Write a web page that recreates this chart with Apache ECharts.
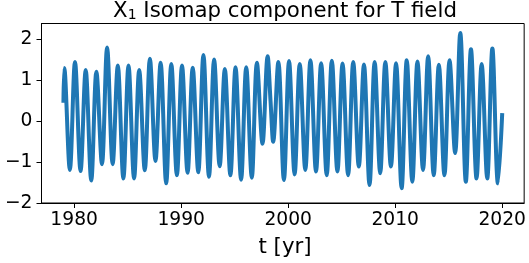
<!DOCTYPE html>
<html>
<head>
<meta charset="utf-8">
<title>X1 Isomap component for T field</title>
<script src="https://cdn.jsdelivr.net/npm/echarts@6/dist/echarts.min.js"></script>
<style>
  html, body { margin: 0; padding: 0; background: #fff; }
  #chart { width: 529px; height: 263px; }
</style>
</head>
<body>
<div id="chart"></div>
<script>
// yearly maxima (around January) and minima (around mid-year)
var years = [1979, 1980, 1981, 1982, 1983, 1984, 1985, 1986, 1987, 1988,
             1989, 1990, 1991, 1992, 1993, 1994, 1995, 1996, 1997, 1998,
             1999, 2000, 2001, 2002, 2003, 2004, 2005, 2006, 2007, 2008,
             2009, 2010, 2011, 2012, 2013, 2014, 2015, 2016, 2017, 2018, 2019];
var peakVals = [1.30, 1.45, 1.25, 1.21, 1.80, 1.36, 1.36, 1.25, 1.53, 1.43,
                1.40, 1.36, 1.31, 1.62, 1.51, 1.28, 1.32, 1.32, 1.43, 1.59,
                1.45, 1.47, 1.40, 1.49, 1.42, 1.48, 1.41, 1.45, 1.39, 1.45,
                1.45, 1.42, 1.49, 1.46, 1.59, 1.38, 1.49, 2.16, 1.76, 1.40, 1.78];
var troughVals = [-1.19, -1.22, -1.45, -1.05, -1.05, -1.40, -1.40, -1.20, -0.97, -1.52,
                  -1.32, -1.26, -1.25, -1.36, -1.10, -1.32, -1.43, -1.38, -0.55, -0.50,
                  -1.44, -1.30, -1.19, -1.23, -1.32, -1.23, -1.32, -1.11, -1.56, -1.27,
                  -1.11, -1.64, -1.48, -1.19, -1.32, -1.32, -0.78, -1.48, -1.40, -1.40, -1.52];
var peakPhase = 0.08;
var troughPhase = 0.6;
// first / last samples and the 1998 shoulder
var extraT = [1979.0, 1998.35, 2020.0];
var extraV = [0.45, 0.50, 0.20];

var xTicks = [1980, 1990, 2000, 2010, 2020];
var yTicks = [-2, -1, 0, 1, 2];

var pts = [];
for (var i = 0; i < years.length; i++) {
    pts.push([years[i] + peakPhase, peakVals[i]]);
    pts.push([years[i] + troughPhase, troughVals[i]]);
}
for (var j = 0; j < extraT.length; j++) {
    pts.push([extraT[j], extraV[j]]);
}
pts.sort(function (a, b) { return a[0] - b[0]; });

function minus(v) {
    return v < 0 ? '\u2212' + Math.abs(v) : String(v);
}

var chart = echarts.init(document.getElementById('chart'));
var font = 'DejaVu Sans';
var option = {
    animation: false,
    grid: {
        left: 41.5, right: 1, top: 23.5, bottom: 60,
        show: true, borderColor: '#000', borderWidth: 1
    },
    xAxis: {
        type: 'value',
        min: 1976.95, max: 2022.05,
        axisLine: { onZero: false, lineStyle: { color: '#000', width: 1 } },
        axisTick: { customValues: xTicks, length: 5, lineStyle: { color: '#000' } },
        axisLabel: {
            customValues: xTicks, margin: 8,
            color: '#000', fontFamily: font, fontSize: 18.7,
            formatter: function (v) { return String(v); }
        },
        splitLine: { show: false }
    },
    yAxis: {
        type: 'value',
        min: -2, max: 2.39,
        axisLine: { show: true, onZero: false, lineStyle: { color: '#000', width: 1 } },
        axisTick: { show: true, customValues: yTicks, length: 5, lineStyle: { color: '#000' } },
        axisLabel: {
            customValues: yTicks, margin: 9,
            color: '#000', fontFamily: font, fontSize: 18.7,
            formatter: minus
        },
        splitLine: { show: false }
    },
    graphic: [
        {
            type: 'text', x: 285, y: 11,
            style: {
                text: 'X{sub|1} Isomap component for T field',
                align: 'center', verticalAlign: 'middle',
                fill: '#000', font: '21.3px "DejaVu Sans"',
                rich: { sub: { fontSize: 14, fontFamily: font, padding: [8, 0, 0, 0] } }
            }
        },
        {
            type: 'text', x: 285, y: 247,
            style: {
                text: 't [yr]', align: 'center', verticalAlign: 'middle',
                fill: '#000', font: '21.3px "DejaVu Sans"'
            }
        }
    ],
    series: [{
        type: 'line',
        data: pts,
        smooth: 0.35,
        showSymbol: false,
        lineStyle: { color: '#1f77b4', width: 4 }
    }]
};
chart.setOption(option);
</script>
</body>
</html>
